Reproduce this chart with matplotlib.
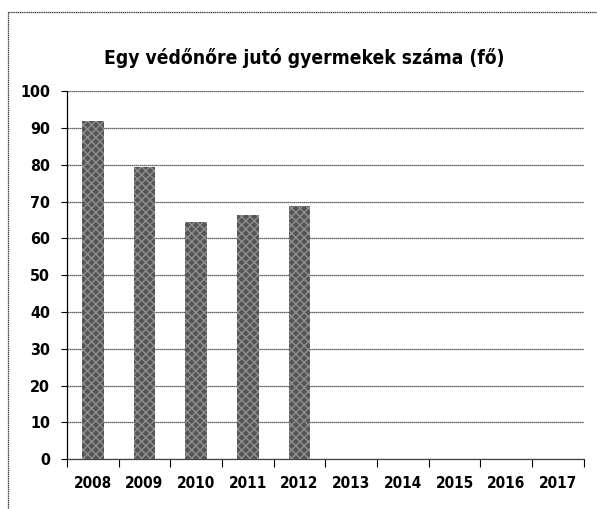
import matplotlib
matplotlib.use('Agg')
import matplotlib.pyplot as plt
from matplotlib.lines import Line2D

title = "Egy védőnőre jutó gyermekek száma (fő)"
years = ['2008', '2009', '2010', '2011', '2012', '2013', '2014', '2015', '2016', '2017']
values = [92, 79.3, 64.5, 66.3, 68.8]
yticks = [0, 10, 20, 30, 40, 50, 60, 70, 80, 90, 100]

fam = ['DejaVu Sans']
fst = 'condensed'

fig = plt.figure(figsize=(5.97, 5.09), dpi=100, facecolor='white')
ax = fig.add_axes([0.112, 0.098, 0.866, 0.723])

x = list(range(len(years)))
ax.bar(x[:len(values)], values, width=0.42, color='#555555',
       hatch='xxxx', edgecolor='#8f8f8f', linewidth=0, zorder=3)

ax.set_xlim(-0.5, len(years) - 0.5)
ax.set_ylim(0, 100)
ax.set_yticks(yticks)
ax.set_yticklabels([str(v) for v in yticks], family=fam, fontstretch=fst,
                   fontsize=11.5, fontweight='bold')
ax.set_xticks(x)
ax.set_xticklabels(years, family=fam, fontstretch=fst, fontsize=11, fontweight='bold')
ax.tick_params(axis='x', length=0, pad=12)
ax.tick_params(axis='y', length=4, width=0.8, pad=8, direction='out')

# tick marks at category boundaries
ax.set_xticks([i - 0.5 for i in range(len(years) + 1)], minor=True)
ax.tick_params(axis='x', which='minor', length=6, width=0.8, direction='out')

ax.grid(axis='y', color='#333333', linewidth=0.9, linestyle=(0, (1, 0.6)), zorder=0)
for s in ['top', 'right']:
    ax.spines[s].set_visible(False)
ax.spines['left'].set_linewidth(0.9)
ax.spines['bottom'].set_linewidth(0.9)
ax.spines['bottom'].set_color('#444444')

fig.text(0.51, 0.887, title, ha='center', va='center', family=fam, fontstretch=fst,
         fontsize=13.8, fontweight='bold')

# chart frame (scan shows only left and top edges)
fig.add_artist(Line2D([8 / 597, 8 / 597], [1 - 12 / 509, 0], color='#333333', linewidth=0.9,
                      linestyle=(0, (1, 0.5))))
fig.add_artist(Line2D([8 / 597, 1], [1 - 12 / 509, 1 - 12 / 509], color='#333333', linewidth=0.9,
                      linestyle=(0, (1, 0.5))))

fig.savefig('out.png', dpi=100, facecolor='white')
